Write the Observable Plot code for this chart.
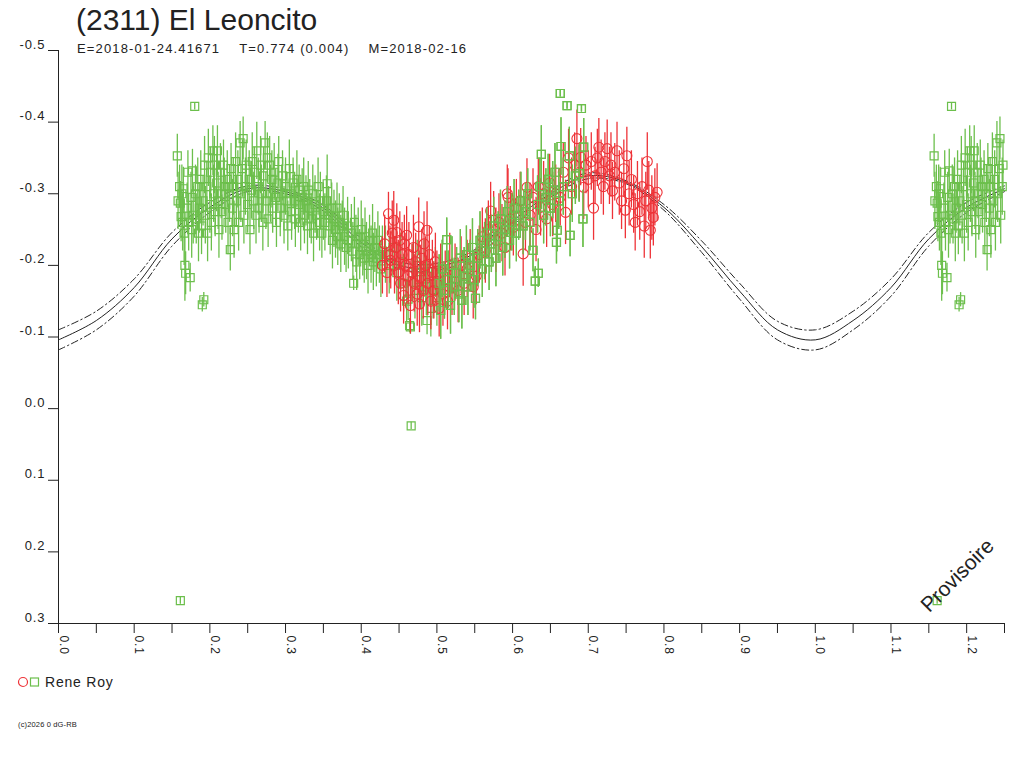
<!DOCTYPE html>
<html><head><meta charset="utf-8">
<script src="https://cdn.jsdelivr.net/npm/d3@7"></script>
<script src="https://cdn.jsdelivr.net/npm/@observablehq/plot@0.6"></script>
<style>
body{margin:0;background:#fff;font-family:"Liberation Sans",Arial,sans-serif;color:#222;}
#wrap{position:relative;width:1024px;height:768px;overflow:hidden;background:#fff;}
#chart{position:absolute;left:0;top:0;}
#chart svg text{letter-spacing:0.9px;}
.abs{position:absolute;white-space:nowrap;}
#title{left:76px;top:5px;font-size:30px;line-height:30px;}
#sub{left:77px;top:42px;font-size:13px;line-height:13px;letter-spacing:1.15px;}
#legend{left:17px;top:674px;font-size:14px;line-height:16px;letter-spacing:0.8px;display:flex;align-items:center;}
#copy{left:18px;top:721px;font-size:7.5px;line-height:8px;letter-spacing:0.15px;}
#prov{left:957px;top:575px;font-size:21px;line-height:21px;transform:translate(-50%,-50%) rotate(-45deg);}
</style></head><body>
<div id="wrap">
<div id="chart"></div>
<div class="abs" id="title">(2311) El Leoncito</div>
<div class="abs" id="sub">E=2018-01-24.41671&nbsp;&nbsp;&nbsp;&nbsp;T=0.774 (0.004)&nbsp;&nbsp;&nbsp;&nbsp;M=2018-02-16</div>
<div class="abs" id="legend"><svg width="24" height="14" style="margin-right:4px"><circle cx="6" cy="7" r="4.5" fill="none" stroke="#ee3338" stroke-width="1.2"/><rect x="13.5" y="3" width="8" height="8" fill="none" stroke="#6cbf4c" stroke-width="1.2"/></svg><span>Rene Roy</span></div>
<div class="abs" id="copy">(c)2026 0 dG-RB</div>
<div class="abs" id="prov">Provisoire</div>
</div>
<script>
const GREEN = "#6cbf4c", RED = "#ee3338";

const greenPhase = [
0.157,0.158,0.160,0.161,0.161,0.162,0.163,0.164,0.165,0.166,
0.167,0.168,0.170,0.171,0.172,0.174,0.175,0.176,0.177,0.178,
0.180,0.181,0.182,0.184,0.185,0.186,0.188,0.189,0.190,0.191,
0.192,0.193,0.194,0.196,0.197,0.198,0.200,0.201,0.202,0.204,
0.205,0.206,0.207,0.209,0.210,0.211,0.212,0.214,0.215,0.216,
0.218,0.219,0.221,0.223,0.224,0.226,0.227,0.228,0.230,0.231,
0.232,0.234,0.235,0.237,0.238,0.240,0.241,0.243,0.244,0.245,
0.247,0.248,0.250,0.252,0.253,0.255,0.256,0.258,0.259,0.261,
0.262,0.264,0.265,0.267,0.268,0.270,0.271,0.273,0.274,0.276,
0.277,0.279,0.280,0.282,0.283,0.285,0.287,0.288,0.290,0.291,
0.293,0.295,0.296,0.298,0.300,0.302,0.303,0.305,0.306,0.308,
0.310,0.312,0.313,0.315,0.317,0.318,0.320,0.322,0.324,0.325,
0.327,0.329,0.330,0.332,0.334,0.336,0.337,0.339,0.341,0.343,
0.345,0.346,0.348,0.350,0.352,0.354,0.355,0.357,0.359,0.361,
0.362,0.364,0.366,0.368,0.369,0.371,0.373,0.375,0.376,0.378,
0.380,0.382,0.383,0.387,0.389,0.390,0.391,0.393,0.394,0.396,
0.398,0.400,0.402,0.404,0.405,0.407,0.409,0.411,0.413,0.415,
0.416,0.418,0.420,0.422,0.424,0.426,0.428,0.432,0.437,0.442,
0.447,0.452,0.456,0.460,0.462,0.464,0.465,0.466,0.468,0.471,
0.474,0.477,0.480,0.483,0.486,0.487,0.490,0.492,0.495,0.498,
0.500,0.503,0.505,0.507,0.510,0.513,0.515,0.518,0.520,0.523,
0.526,0.529,0.531,0.533,0.536,0.539,0.541,0.544,0.547,0.549,
0.551,0.554,0.557,0.560,0.563,0.566,0.569,0.572,0.575,0.578,
0.581,0.584,0.587,0.590,0.593,0.596,0.599,0.602,0.605,0.608,
0.611,0.614,0.617,0.620,0.623,0.627,0.630,0.633,0.634,0.636,
0.638,0.641,0.644,0.647,0.650,0.653,0.656,0.658,0.659,0.661,
0.663,0.664,0.667,0.672,0.675,0.676,0.679,0.683,0.688,0.691,
0.693,0.694];

const greenMag = [
-0.353,-0.29,-0.31,-0.287,0.268,-0.268,-0.30,-0.26,-0.307,-0.245,
-0.20,-0.189,-0.28,-0.33,-0.26,-0.183,-0.295,-0.25,-0.332,-0.27,
-0.422,-0.30,-0.265,-0.31,-0.245,-0.28,-0.32,-0.255,-0.145,-0.29,
-0.152,-0.34,-0.27,-0.31,-0.245,-0.35,-0.285,-0.33,-0.26,-0.36,
-0.30,-0.34,-0.275,-0.315,-0.36,-0.29,-0.25,-0.33,-0.30,-0.275,
-0.34,-0.31,-0.285,-0.32,-0.26,-0.30,-0.222,-0.335,-0.28,-0.31,
-0.25,-0.345,-0.29,-0.32,-0.26,-0.371,-0.30,-0.335,-0.377,-0.27,
-0.31,-0.34,-0.285,-0.32,-0.25,-0.305,-0.345,-0.29,-0.33,-0.27,
-0.36,-0.31,-0.28,-0.34,-0.30,-0.26,-0.325,-0.371,-0.29,-0.35,
-0.265,-0.34,-0.30,-0.32,-0.28,-0.33,-0.295,-0.26,-0.315,-0.345,
-0.28,-0.30,-0.325,-0.27,-0.31,-0.29,-0.255,-0.335,-0.30,-0.275,
-0.315,-0.29,-0.265,-0.32,-0.285,-0.305,-0.26,-0.295,-0.31,-0.27,
-0.29,-0.255,-0.305,-0.28,-0.265,-0.30,-0.245,-0.285,-0.27,-0.31,
-0.26,-0.29,-0.245,-0.275,-0.26,-0.29,-0.314,-0.27,-0.255,-0.28,
-0.235,-0.265,-0.25,-0.28,-0.24,-0.26,-0.23,-0.255,-0.27,-0.24,
-0.225,-0.255,-0.235,-0.245,-0.22,-0.175,-0.26,-0.23,-0.205,-0.24,
-0.215,-0.25,-0.225,-0.21,-0.24,-0.22,-0.20,-0.235,-0.215,-0.245,
-0.205,-0.225,-0.21,-0.235,-0.215,-0.195,-0.22,-0.215,-0.20,-0.225,
-0.19,-0.205,-0.175,-0.15,-0.153,-0.116,-0.114,0.024,-0.19,-0.165,
-0.20,-0.18,-0.155,-0.195,-0.17,-0.123,-0.185,-0.14,-0.165,-0.19,
-0.155,-0.175,-0.137,-0.195,-0.165,-0.236,-0.18,-0.144,-0.20,-0.17,
-0.19,-0.16,-0.21,-0.151,-0.185,-0.215,-0.17,-0.20,-0.225,-0.18,
-0.154,-0.21,-0.235,-0.195,-0.22,-0.245,-0.205,-0.23,-0.255,-0.21,
-0.24,-0.265,-0.225,-0.25,-0.275,-0.235,-0.26,-0.28,-0.245,-0.27,
-0.29,-0.255,-0.275,-0.30,-0.26,-0.221,-0.178,-0.285,-0.189,-0.31,
-0.355,-0.27,-0.295,-0.32,-0.28,-0.305,-0.33,-0.232,-0.249,-0.29,
-0.44,-0.366,-0.31,-0.423,-0.353,-0.242,-0.30,-0.325,-0.328,-0.419,
-0.265,-0.365];

const greenErr = [
.03,.04,.03,.03,.005,.035,.04,.04,.03,.045,
.05,.03,.035,.03,.04,.02,.035,.04,.03,.04,
.005,.04,.035,.04,.04,.035,.04,.04,.01,.035,
.01,.04,.04,.035,.04,.04,.04,.035,.04,.035,
.04,.04,.035,.04,.035,.04,.04,.04,.035,.04,
.035,.04,.04,.04,.045,.04,.03,.035,.04,.04,
.04,.04,.035,.04,.04,.03,.04,.04,.03,.04,
.04,.035,.04,.04,.035,.04,.04,.04,.035,.04,
.04,.04,.035,.04,.04,.04,.04,.03,.04,.035,
.04,.04,.04,.04,.035,.04,.04,.035,.04,.035,
.04,.04,.035,.04,.04,.04,.035,.04,.04,.04,
.035,.04,.04,.04,.04,.035,.04,.04,.04,.04,
.035,.04,.04,.04,.035,.04,.04,.04,.035,.04,
.04,.04,.035,.04,.04,.035,.04,.04,.04,.035,
.04,.04,.04,.035,.04,.04,.04,.035,.04,.04,
.035,.04,.04,.04,.04,.01,.035,.04,.04,.04,
.035,.04,.04,.035,.04,.04,.04,.035,.04,.04,
.04,.035,.04,.04,.04,.04,.035,.04,.04,.035,
.04,.04,.04,.03,.03,.01,.01,.005,.04,.04,
.035,.04,.04,.04,.04,.02,.04,.04,.04,.035,
.04,.04,.04,.04,.04,.03,.04,.04,.04,.04,
.035,.04,.04,.04,.04,.04,.04,.035,.04,.04,
.03,.04,.04,.04,.04,.035,.04,.04,.04,.04,
.035,.04,.04,.04,.035,.04,.04,.04,.04,.035,
.04,.04,.04,.035,.04,.03,.02,.04,.02,.04,
.04,.04,.04,.035,.04,.04,.04,.03,.03,.04,
.005,.04,.04,.005,.04,.03,.04,.04,.04,.005,
.04,.04];

const redPhase = [
0.428,0.431,0.434,0.436,0.438,0.439,0.441,0.443,0.444,0.446,
0.447,0.449,0.451,0.452,0.454,0.456,0.457,0.459,0.460,0.462,
0.463,0.465,0.467,0.469,0.470,0.472,0.474,0.476,0.477,0.478,
0.480,0.482,0.483,0.485,0.487,0.488,0.490,0.492,0.494,0.496,
0.498,0.500,0.503,0.505,0.508,0.511,0.514,0.517,0.520,0.524,
0.528,0.532,0.536,0.540,0.544,0.548,0.552,0.556,0.560,0.564,
0.568,0.571,0.575,0.578,0.582,0.586,0.590,0.593,0.594,0.597,
0.601,0.605,0.610,0.614,0.617,0.619,0.623,0.627,0.631,0.634,
0.637,0.641,0.645,0.649,0.653,0.657,0.663,0.667,0.670,0.674,
0.678,0.682,0.685,0.688,0.690,0.694,0.697,0.700,0.704,0.707,
0.709,0.712,0.714,0.717,0.720,0.722,0.725,0.728,0.730,0.732,
0.735,0.738,0.741,0.744,0.747,0.749,0.751,0.754,0.757,0.760,
0.762,0.765,0.768,0.771,0.774,0.776,0.778,0.780,0.782,0.784,
0.786,0.788,0.791];

const redMag = [
-0.20,-0.23,-0.19,-0.272,-0.215,-0.207,-0.245,-0.263,-0.20,-0.225,
-0.246,-0.19,-0.235,-0.175,-0.215,-0.158,-0.23,-0.20,-0.242,-0.185,
-0.215,-0.144,-0.19,-0.225,-0.175,-0.205,-0.16,-0.254,-0.146,-0.183,
-0.21,-0.165,-0.23,-0.20,-0.249,-0.175,-0.215,-0.15,-0.19,-0.165,
-0.205,-0.175,-0.14,-0.19,-0.16,-0.18,-0.15,-0.20,-0.17,-0.19,
-0.165,-0.20,-0.175,-0.195,-0.21,-0.17,-0.185,-0.215,-0.24,-0.22,
-0.25,-0.276,-0.263,-0.235,-0.26,-0.245,-0.225,-0.30,-0.295,-0.265,
-0.253,-0.28,-0.29,-0.216,-0.26,-0.309,-0.27,-0.295,-0.25,-0.31,
-0.281,-0.30,-0.265,-0.315,-0.285,-0.30,-0.295,-0.33,-0.274,-0.35,
-0.31,-0.34,-0.377,-0.33,-0.351,-0.309,-0.34,-0.32,-0.345,-0.28,
-0.325,-0.35,-0.365,-0.33,-0.31,-0.345,-0.363,-0.325,-0.34,-0.304,
-0.33,-0.36,-0.315,-0.29,-0.335,-0.277,-0.353,-0.30,-0.32,-0.285,
-0.26,-0.30,-0.275,-0.31,-0.255,-0.29,-0.345,-0.305,-0.249,-0.28,
-0.267,-0.295,-0.302];

const redErr = [
.04,.04,.035,.03,.04,.04,.045,.04,.04,.045,
.04,.045,.04,.04,.045,.04,.04,.045,.04,.04,
.045,.04,.04,.045,.04,.04,.045,.04,.04,.045,
.04,.04,.045,.04,.04,.045,.04,.04,.045,.04,
.04,.045,.04,.04,.045,.04,.04,.045,.04,.04,
.045,.04,.045,.04,.04,.045,.04,.04,.04,.045,
.04,.04,.04,.045,.04,.04,.04,.04,.04,.045,
.04,.04,.04,.045,.04,.04,.045,.04,.045,.04,
.04,.045,.04,.04,.045,.04,.04,.04,.045,.04,
.04,.045,.04,.04,.04,.045,.04,.04,.04,.045,
.04,.04,.04,.045,.04,.04,.04,.04,.045,.04,
.04,.04,.045,.04,.04,.04,.04,.045,.04,.04,
.04,.045,.04,.04,.045,.04,.04,.04,.04,.045,
.04,.04,.04];

// fitted curve (one period) and its two uncertainty envelopes
const curvePhase = [0,0.05,0.10,0.15,0.20,0.25,0.30,0.35,0.40,0.45,0.50,0.55,0.60,0.65,0.70,0.75,0.80,0.85,0.90,0.95,1.00];
const curveMid = [-0.096,-0.123,-0.169,-0.237,-0.281,-0.307,-0.303,-0.280,-0.232,-0.200,-0.198,-0.217,-0.262,-0.300,-0.325,-0.316,-0.281,-0.226,-0.164,-0.110,-0.096];
const curveUp  = [-0.110,-0.136,-0.181,-0.246,-0.288,-0.311,-0.306,-0.284,-0.238,-0.205,-0.203,-0.222,-0.268,-0.305,-0.329,-0.318,-0.285,-0.234,-0.175,-0.122,-0.110];
const curveLow = [-0.082,-0.110,-0.157,-0.227,-0.274,-0.303,-0.300,-0.276,-0.226,-0.195,-0.193,-0.212,-0.256,-0.295,-0.321,-0.314,-0.277,-0.218,-0.153,-0.096,-0.082];

const xTicks = d3.range(0, 26).map(i => i * 0.05);
const xLabelTicks = [0,0.1,0.2,0.3,0.4,0.5,0.6,0.7,0.8,0.9,1.0,1.1,1.2];
const yTicks = [-0.5,-0.4,-0.3,-0.2,-0.1,0,0.1,0.2,0.3];
const yLabels = ["-0.5","-0.4","-0.3","-0.2","-0.1","0.0","0.1","0.2","0.3"];

const toRows = (P, M, E) => P.map((p, i) => ({p, m: M[i], e: E[i]}));
const wrap = rows => rows.concat(rows.filter(d => d.p < 0.25).map(d => ({...d, p: d.p + 1})));
const green = wrap(toRows(greenPhase, greenMag, greenErr));
const red = wrap(toRows(redPhase, redMag, redErr));
const greenLate = green.filter(d => d.p > 0.5 && d.p < 1);

const curveRows = [];
curvePhase.forEach((p, i) => curveRows.push({p, mid: curveMid[i], up: curveUp[i], low: curveLow[i]}));
curvePhase.forEach((p, i) => { if (p > 0 && p <= 0.25) curveRows.push({p: p + 1, mid: curveMid[i], up: curveUp[i], low: curveLow[i]}); });

const dashdot = "7,3,1.5,3";
const bar = (data, color) => Plot.ruleX(data, {x: "p", y1: d => d.m - d.e, y2: d => d.m + d.e, stroke: color, strokeWidth: 1.3});
const chart = Plot.plot({
  width: 1024, height: 670,
  marginLeft: 58, marginRight: 20, marginTop: 50, marginBottom: 47,
  style: {fontFamily: "'Liberation Sans', Arial, sans-serif", color: "#222", background: "#fff"},
  x: {domain: [0, 1.25], axis: null},
  y: {domain: [-0.5, 0.3], reverse: true, axis: null},
  marks: [
    Plot.line(curveRows, {x: "p", y: "mid", stroke: "#222", strokeWidth: 1, curve: "catmull-rom"}),
    Plot.line(curveRows, {x: "p", y: "up", stroke: "#222", strokeWidth: 1, strokeDasharray: dashdot, curve: "catmull-rom"}),
    Plot.line(curveRows, {x: "p", y: "low", stroke: "#222", strokeWidth: 1, strokeDasharray: dashdot, curve: "catmull-rom"}),
    Plot.dot(green, {x: "p", y: "m", symbol: "square", r: 4.5, stroke: GREEN, strokeWidth: 1.2, fill: "none"}),
    bar(green, GREEN),
    Plot.dot(red, {x: "p", y: "m", symbol: "circle", r: 5, stroke: RED, strokeWidth: 1.1, fill: "none"}),
    bar(red, RED),
    Plot.dot(greenLate, {x: "p", y: "m", symbol: "square", r: 4.5, stroke: GREEN, strokeWidth: 1.2, fill: "none"}),
    bar(greenLate, GREEN),
    // axes
    Plot.ruleX([0], {y1: -0.5, y2: 0.3, stroke: "#222"}),
    Plot.ruleY([0.3], {x1: 0, x2: 1.25, stroke: "#222"}),
    Plot.axisY({ticks: yTicks, tickSize: 10, tickFormat: () => "", label: null, stroke: "#222"}),
    Plot.axisX({ticks: xTicks, tickSize: 10, tickFormat: () => "", label: null, stroke: "#222"}),
    Plot.text(yTicks, {y: d => d, text: (d, i) => yLabels[i], frameAnchor: "left", textAnchor: "end", lineAnchor: "bottom", dx: -13, dy: -2, fontSize: 13, fill: "#222"}),
    Plot.text(xLabelTicks, {x: d => d, text: d => d.toFixed(1), frameAnchor: "bottom", rotate: 90, textAnchor: "start", lineAnchor: "bottom", dy: 12, dx: 1, fontSize: 12, fill: "#222"})
  ]
});
document.getElementById("chart").appendChild(chart);
</script>
</body></html>
